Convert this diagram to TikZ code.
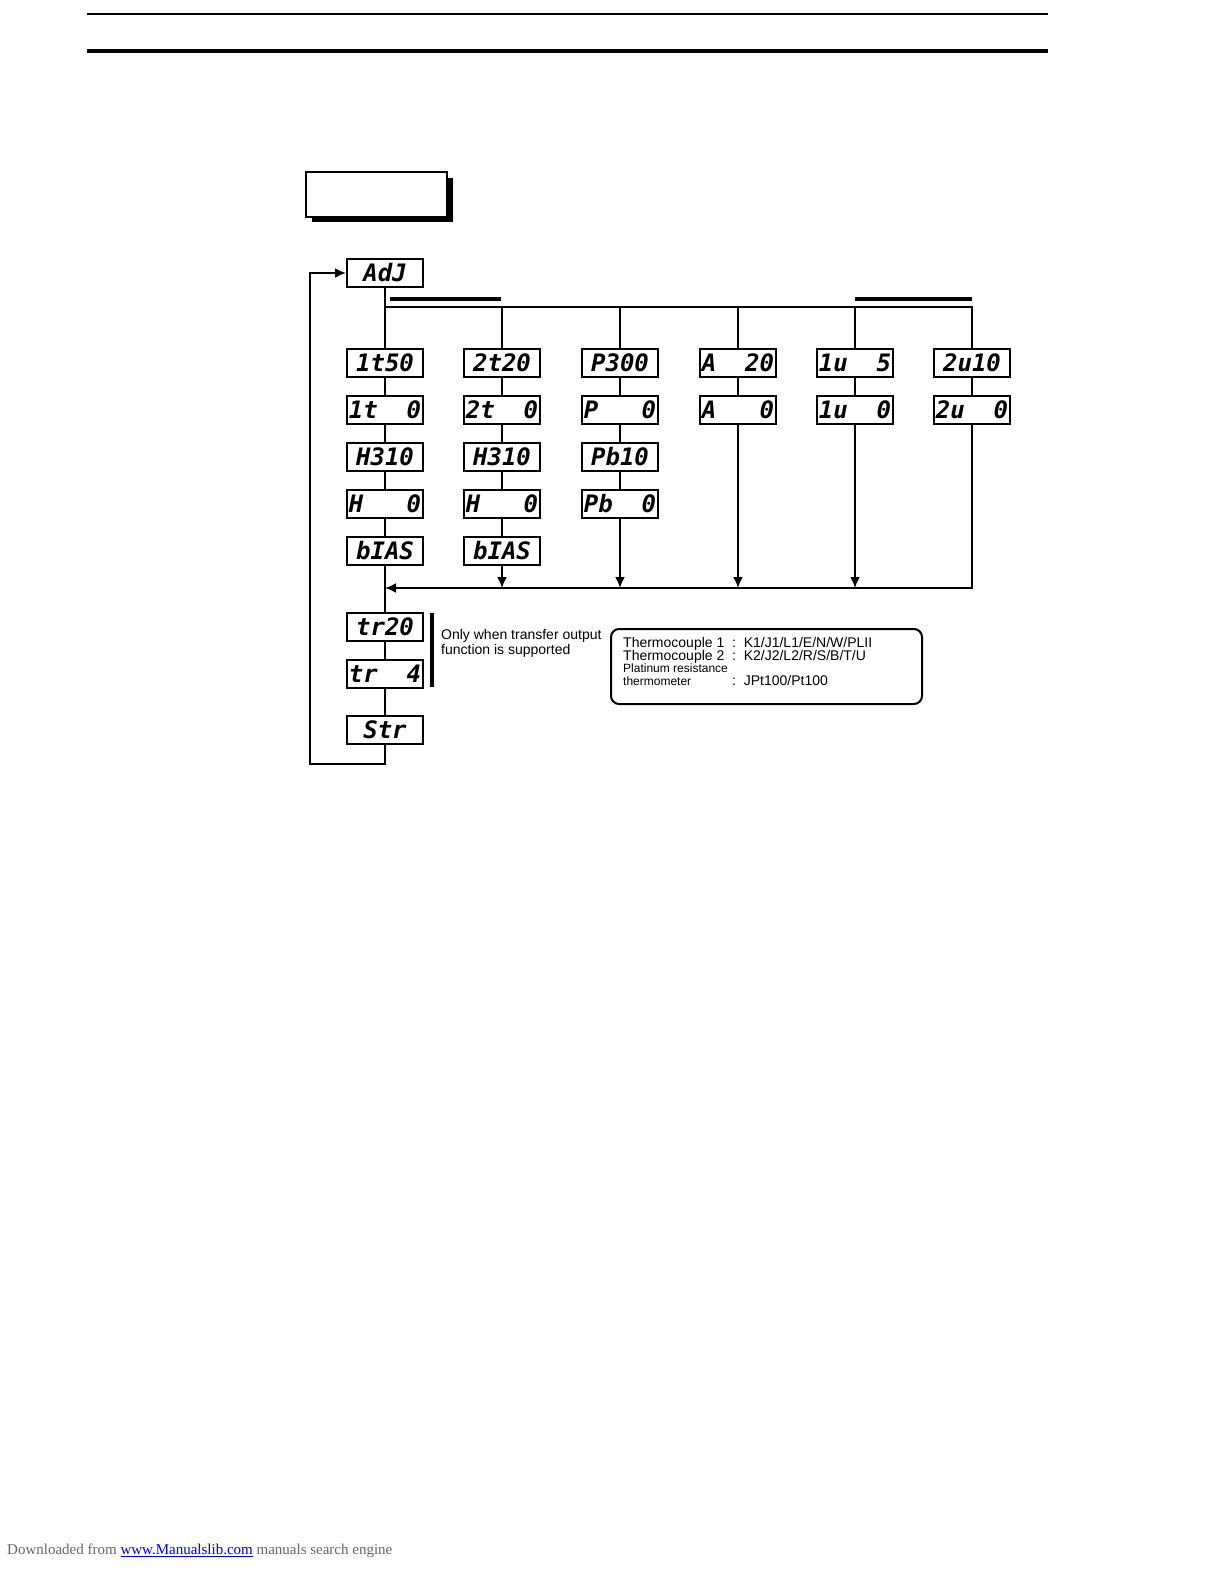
\documentclass[tikz,border=0pt]{standalone}
\usetikzlibrary{arrows.meta}
\usepackage{fontspec}
\setsansfont{Liberation Sans}
\setmainfont{Liberation Serif}
\newfontfamily\segfont{DejaVu Sans Mono}
\begin{document}
\begin{tikzpicture}[x=1pt, y=-1pt,
    segStyle/.style={rectangle, draw, line width=2pt, minimum width=76pt, minimum height=28pt, inner sep=0pt, font=\segfont\bfseries\itshape\fontsize{24}{24}\selectfont},
    lineStyle/.style={line width=2pt},
    tipStyle/.style={-{Latex[length=11pt,width=10pt]}, line width=2pt}]
    \useasboundingbox (0,0) rectangle (1224,1584);
    \draw[line width=1.5pt] (87,14) -- (1048,14);
    \draw[line width=4.5pt] (87,51) -- (1048,51);

    \fill (312,178) rectangle (453,222);
    \node[draw, fill=white, line width=2pt, minimum width=141pt, minimum height=45pt] (title) at (376,194) {};

    \node[segStyle] (adj) at (385,273) {AdJ};

    % columns
    \node[segStyle] (c1_0) at (385,363) {1t50};
    \node[segStyle] (c1_1) at (385,410) {1t \ 0};
    \node[segStyle] (c1_2) at (385,457) {H310};
    \node[segStyle] (c1_3) at (385,504) {H \ \ 0};
    \node[segStyle] (c1_4) at (385,551) {bIAS};

    \node[segStyle] (c2_0) at (502,363) {2t20};
    \node[segStyle] (c2_1) at (502,410) {2t \ 0};
    \node[segStyle] (c2_2) at (502,457) {H310};
    \node[segStyle] (c2_3) at (502,504) {H \ \ 0};
    \node[segStyle] (c2_4) at (502,551) {bIAS};

    \node[segStyle] (c3_0) at (620,363) {P300};
    \node[segStyle] (c3_1) at (620,410) {P \ \ 0};
    \node[segStyle] (c3_2) at (620,457) {Pb10};
    \node[segStyle] (c3_3) at (620,504) {Pb \ 0};

    \node[segStyle] (c4_0) at (738,363) {A \ 20};
    \node[segStyle] (c4_1) at (738,410) {A \ \ 0};

    \node[segStyle] (c5_0) at (855,363) {1u \ 5};
    \node[segStyle] (c5_1) at (855,410) {1u \ 0};

    \node[segStyle] (c6_0) at (972,363) {2u10};
    \node[segStyle] (c6_1) at (972,410) {2u \ 0};

    \node[segStyle] (tr20) at (385,627) {tr20};
    \node[segStyle] (tr4)  at (385,674) {tr \ 4};
    \node[segStyle] (str)  at (385,730) {Str};

    \coordinate (bus1) at (385,307);
    \coordinate (bus6) at (972,307);
    \coordinate (ret1) at (385,588);
    \coordinate (ret6) at (972,588);

    \draw[lineStyle] (adj) -- (c1_0);
    \draw[lineStyle] (bus1) -- (bus6) -- (c6_0);
    \foreach \c in {2,3,4,5} \draw[lineStyle] (c\c_0.north |- bus1) -- (c\c_0);
    \draw[line width=4pt] (390,299) -- (501,299);
    \draw[line width=4pt] (855,299) -- (972,299);

    \draw[lineStyle] (c1_0) -- (c1_1) -- (c1_2) -- (c1_3) -- (c1_4) -- (tr20) -- (tr4) -- (str);
    \draw[lineStyle] (c2_0) -- (c2_1) -- (c2_2) -- (c2_3) -- (c2_4);
    \draw[lineStyle] (c3_0) -- (c3_1) -- (c3_2) -- (c3_3);
    \draw[lineStyle] (c4_0) -- (c4_1);
    \draw[lineStyle] (c5_0) -- (c5_1);
    \draw[lineStyle] (c6_0) -- (c6_1);

    \foreach \c/\r in {2/4,3/3,4/1,5/1} \draw[tipStyle] (c\c_\r) -- (c\c_\r.south |- ret1);
    \draw[tipStyle] (c6_1) -- (ret6) -- (ret1);

    \draw[tipStyle] (str) -- ++(0,34) -| (310,273) -- (adj);

    \draw[line width=4pt] (432,613) -- (432,687);
    \node[anchor=north west, align=left, inner sep=0pt, font=\sffamily\fontsize{14}{15}\selectfont] (note) at (441,629) {Only when transfer output\\function is supported};

    \node[draw, line width=2pt, rounded corners=8pt, minimum width=311pt, minimum height=75pt] (legend) at (766.5,666.5) {};
    \node[anchor=north west, inner sep=0pt, font=\sffamily\fontsize{14}{15}\selectfont] (leg) at (623,637) {%
      \begin{tabular}{@{}l@{\ \ }l@{\ \ }l@{}}
      Thermocouple 1 & : & K1/J1/L1/E/N/W/PLII\\[-2pt]
      Thermocouple 2 & : & K2/J2/L2/R/S/B/T/U\\[-3pt]
      \multicolumn{3}{@{}l}{\fontsize{12}{13}\selectfont Platinum resistance}\\[-2pt]
      {\fontsize{12}{13}\selectfont thermometer} & : & JPt100/Pt100
      \end{tabular}};

    \node[anchor=west, inner sep=0pt, font=\rmfamily\fontsize{15}{16}\selectfont] (foot) at (7,1551) {\textcolor{gray!80!black}{Downloaded from} \textcolor{blue!80!black}{\underline{www.Manualslib.com}} \textcolor{gray!80!black}{ manuals search engine}};
\end{tikzpicture}
\end{document}
